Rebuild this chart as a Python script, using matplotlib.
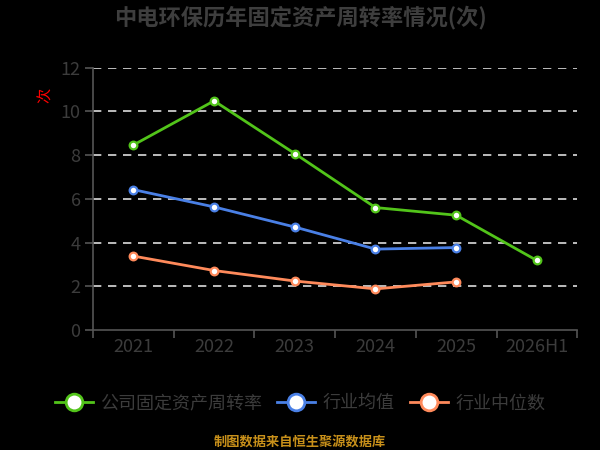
import matplotlib
matplotlib.use("Agg")
import matplotlib.pyplot as plt
from matplotlib.lines import Line2D

plt.rcParams['font.family'] = ['Noto Sans CJK SC', 'DejaVu Sans']

categories = ["2021", "2022", "2023", "2024", "2025", "2026H1"]
company = [8.46, 10.48, 8.07, 5.60, 5.25, 3.18]
industry_avg = [6.42, 5.63, 4.71, 3.70, 3.77]
industry_median = [3.38, 2.72, 2.24, 1.88, 2.20]
series_names = ["公司固定资产周转率", "行业均值", "行业中位数"]
yticks = [0, 2, 4, 6, 8, 10, 12]

title = "中电环保历年固定资产周转率情况(次)"
source = "制图数据来自恒生聚源数据库"

c_green = "#52C41A"
c_blue = "#4A80E6"
c_orange = "#FF8A5B"
text_gray = "#3C3C3C"
axis_gray = "#555555"

fig = plt.figure(figsize=(6, 4.5), dpi=100, facecolor="black")
ax = fig.add_axes([0.155, 0.2667, 0.807, 0.583], facecolor="black")

x = list(range(len(categories)))
styles = dict(linewidth=2.0, marker="o", markersize=5.5, markerfacecolor="white",
              markeredgewidth=1.6, zorder=3)
ax.plot(x[:len(company)], company, color=c_green, markeredgecolor=c_green, **styles)
ax.plot(x[:len(industry_avg)], industry_avg, color=c_blue, markeredgecolor=c_blue, **styles)
ax.plot(x[:len(industry_median)], industry_median, color=c_orange, markeredgecolor=c_orange, **styles)

ax.set_xlim(-0.5, len(categories) - 0.5)
ax.set_ylim(0, 12)
ax.set_yticks(yticks)
ax.set_yticklabels([str(v) for v in yticks], fontsize=13, color=text_gray)
ax.set_xticks([i - 0.5 for i in range(len(categories) + 1)])
ax.set_xticklabels([])
ax.set_xticks(x, minor=True)
ax.set_xticklabels(categories, minor=True, fontsize=13, color=text_gray)
ax.tick_params(axis="x", which="major", length=6, color=axis_gray, width=1.2)
ax.tick_params(axis="x", which="minor", length=0, pad=6)
ax.tick_params(axis="y", length=6, color=axis_gray, width=1.2, pad=3)

for v in yticks[1:]:
    ax.axhline(v, color="#DDDDDD", linewidth=1.2, linestyle=(0, (5, 4)), zorder=1)

for s in ["top", "right"]:
    ax.spines[s].set_visible(False)
for s in ["left", "bottom"]:
    ax.spines[s].set_color(axis_gray)
    ax.spines[s].set_linewidth(1.2)

fig.text(0.5, 0.961, title, ha="center", va="center", fontsize=16,
         fontweight="bold", color="#3E3E3E")
fig.text(0.075, 0.787, "次", ha="center", va="center", fontsize=11,
         color="red", rotation=90)

handles = [Line2D([0], [0], color=c, linewidth=2, marker="o", markersize=12,
                  markerfacecolor="white", markeredgecolor=c, markeredgewidth=2)
           for c in [c_green, c_blue, c_orange]]
leg = fig.legend(handles, series_names, loc="center", bbox_to_anchor=(0.5, 0.104),
                 ncol=3, frameon=False, fontsize=13, handlelength=2.1,
                 handletextpad=0.4, columnspacing=0.85)
for t in leg.get_texts():
    t.set_color(text_gray)

fig.text(0.5, 0.018, source, ha="center", va="center", fontsize=9.5,
         fontweight="bold", color="#C8901A")

fig.savefig("out.png", dpi=100, facecolor="black")
